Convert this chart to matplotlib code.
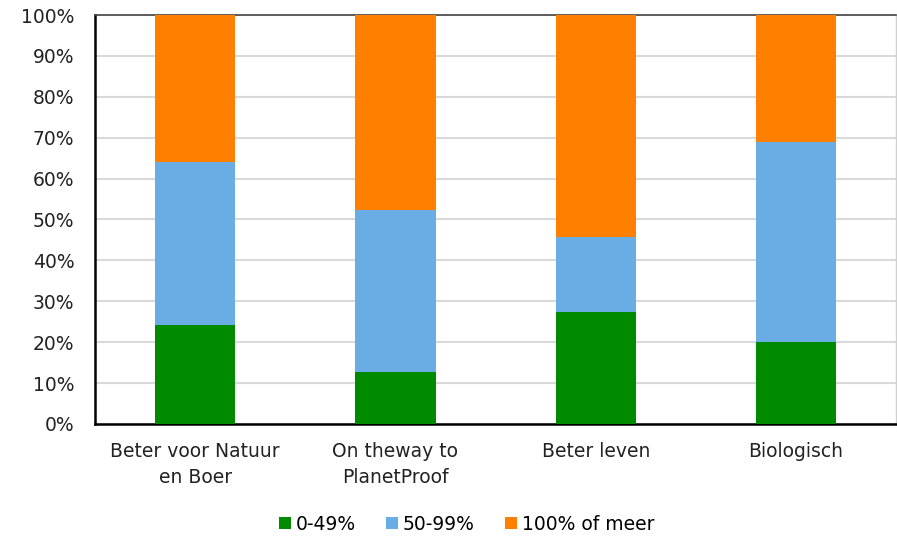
import matplotlib
matplotlib.use("Agg")
import matplotlib.pyplot as plt
from matplotlib.ticker import PercentFormatter

categories = ["Beter voor Natuur\nen Boer", "On theway to\nPlanetProof", "Beter leven", "Biologisch"]
low = [24.2, 12.6, 27.3, 20.0]      # 0-49%
mid = [39.8, 39.7, 18.3, 48.9]      # 50-99%
high = [36.0, 47.7, 54.4, 31.1]     # 100% of meer
series_labels = ["0-49%", "50-99%", "100% of meer"]
colors = ["#008a00", "#6aade4", "#ff7f00"]

plt.rcParams["font.family"] = "DejaVu Sans"
fig = plt.figure(figsize=(8.97, 5.36), dpi=100)
ax = fig.add_axes([0.106, 0.209, 0.893, 0.763])

x = list(range(len(categories)))
bottom = [0.0] * len(categories)
for vals, lab, col in zip([low, mid, high], series_labels, colors):
    ax.bar(x, vals, bottom=bottom, width=0.4, color=col, label=lab, zorder=3)
    bottom = [b + v for b, v in zip(bottom, vals)]

ax.set_xlim(-0.5, 3.5)
ax.set_ylim(0, 100)
ax.set_yticks(range(0, 101, 10))
ax.yaxis.set_major_formatter(PercentFormatter(decimals=0))
ax.set_xticks(x)
ax.set_xticklabels(categories, fontsize=13.5, color="#222222", linespacing=1.45)
ax.tick_params(axis="y", labelsize=13.5, colors="#222222", length=0, pad=15)
ax.tick_params(axis="x", length=0, pad=13)
ax.grid(axis="y", color="#d9d9d9", linewidth=1.5, zorder=0)

ax.spines["left"].set_linewidth(1.8)
ax.spines["bottom"].set_linewidth(1.8)
ax.spines["left"].set_color("black")
ax.spines["bottom"].set_color("black")
ax.spines["top"].set_color("#444444")
ax.spines["top"].set_linewidth(1.2)
ax.spines["right"].set_color("#d0d0d0")
ax.spines["right"].set_linewidth(1.0)

fig.legend(loc="lower center", bbox_to_anchor=(0.52, -0.027), ncol=3, frameon=False,
           fontsize=13.5, handlelength=0.65, handleheight=0.65, handletextpad=0.25,
           columnspacing=1.6)

fig.savefig("out.png", dpi=100)
